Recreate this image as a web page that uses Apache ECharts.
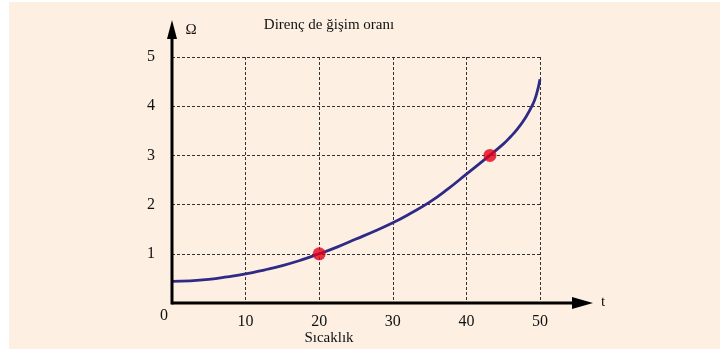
<!DOCTYPE html>
<html>
<head>
<meta charset="utf-8">
<script src="https://cdn.jsdelivr.net/npm/echarts@6/dist/echarts.min.js"></script>
<style>
  html, body { margin: 0; padding: 0; background: #ffffff; }
  #chart { width: 720px; height: 349px; }
</style>
</head>
<body>
<div id="chart"></div>
<script>
// Resistance vs. temperature curve
const temps = [0, 2.5, 5, 7.5, 10, 12.5, 15, 17.5, 20, 22.5, 25, 27.5, 30, 32.5, 35, 37.5, 40, 42.5, 45, 46, 47, 48, 49, 49.5, 50];
const resist = [0.44, 0.45, 0.48, 0.53, 0.59, 0.67, 0.76, 0.87, 1.0, 1.14, 1.3, 1.46, 1.63, 1.83, 2.05, 2.32, 2.62, 2.92, 3.23, 3.38, 3.55, 3.76, 4.03, 4.23, 4.55];
// Highlighted points on the curve
const markT = [20, 43.2];
const markR = [1, 3];
const xTicks = [10, 20, 30, 40, 50];
const yTicks = [1, 2, 3, 4, 5];

const titleText = 'Direnç de ğişim oranı';
const xName = 'Sıcaklık';
const serif = '"Liberation Serif", "DejaVu Serif", serif';

const chart = echarts.init(document.getElementById('chart'));

const option = {
  backgroundColor: 'transparent',
  animation: false,
  grid: { left: 172, right: 180, top: 57, bottom: 46 },
  xAxis: {
    type: 'value', min: 0, max: 50, interval: 10,
    axisLine: { show: false },
    axisTick: { show: false },
    axisLabel: {
      margin: 11, fontFamily: serif, fontSize: 16, color: '#111',
      formatter: v => (xTicks.includes(v) ? String(v) : '')
    },
    splitLine: { show: true, lineStyle: { color: '#333', width: 1, type: [3, 2] } }
  },
  yAxis: {
    type: 'value', min: 0, max: 5, interval: 1,
    axisLine: { show: false },
    axisTick: { show: false },
    axisLabel: {
      margin: 17, fontFamily: serif, fontSize: 16, color: '#111',
      formatter: v => (yTicks.includes(v) ? String(v) : '')
    },
    splitLine: { show: true, lineStyle: { color: '#333', width: 1, type: [3, 2] } }
  },
  series: [
    {
      type: 'line',
      data: temps.map((t, i) => [t, resist[i]]),
      smooth: 0.5,
      showSymbol: false,
      lineStyle: { color: '#2E2A86', width: 2.8 },
      z: 3
    },
    {
      type: 'scatter',
      data: markT.map((t, i) => [t, markR[i]]),
      symbolSize: 13,
      itemStyle: { color: '#E2001A' },
      z: 4
    }
  ]
};
chart.setOption(option);

// Axis arrows and free text, placed relative to the plot's origin
const o = chart.convertToPixel({ gridIndex: 0 }, [0, 0]);
const xEnd = chart.convertToPixel({ gridIndex: 0 }, [50, 0])[0];
const yTop = chart.convertToPixel({ gridIndex: 0 }, [0, 5])[1];
const xArrowTip = xEnd + 53;
const yArrowTip = yTop - 37;

chart.setOption({
  graphic: [
    { type: 'rect', z: -10, silent: true,
      shape: { x: 9, y: 2, width: 711, height: 347 },
      style: { fill: '#FDF0E2' } },
    { type: 'line', z: 10,
      shape: { x1: o[0], y1: o[1], x2: xArrowTip - 18, y2: o[1] },
      style: { stroke: '#000', lineWidth: 3 } },
    { type: 'polygon', z: 10,
      shape: { points: [[xArrowTip - 21, o[1] - 6], [xArrowTip, o[1]], [xArrowTip - 21, o[1] + 6]] },
      style: { fill: '#000' } },
    { type: 'line', z: 10,
      shape: { x1: o[0], y1: o[1] + 1.5, x2: o[0], y2: yArrowTip + 16 },
      style: { stroke: '#000', lineWidth: 3 } },
    { type: 'polygon', z: 10,
      shape: { points: [[o[0] - 5, yArrowTip + 19], [o[0], yArrowTip], [o[0] + 5, yArrowTip + 19]] },
      style: { fill: '#000' } },
    { type: 'text', z: 10, x: o[0] - 8, y: o[1] + 13,
      style: { text: '0', font: '16px ' + serif, fill: '#111', align: 'center', verticalAlign: 'middle' } },
    { type: 'text', z: 10, x: xArrowTip + 10, y: o[1] - 1,
      style: { text: 't', font: '15px ' + serif, fill: '#111', align: 'center', verticalAlign: 'middle' } },
    { type: 'text', z: 10, x: o[0] + 19, y: yArrowTip + 10,
      style: { text: 'Ω', font: '15px ' + serif, fill: '#111', align: 'center', verticalAlign: 'middle' } },
    { type: 'text', z: 10, x: 329, y: 25,
      style: { text: titleText, font: '15px ' + serif, fill: '#111', align: 'center', verticalAlign: 'middle' } },
    { type: 'text', z: 10, x: 329, y: 338,
      style: { text: xName, font: '15px ' + serif, fill: '#111', align: 'center', verticalAlign: 'middle' } }
  ]
});
</script>
</body>
</html>
